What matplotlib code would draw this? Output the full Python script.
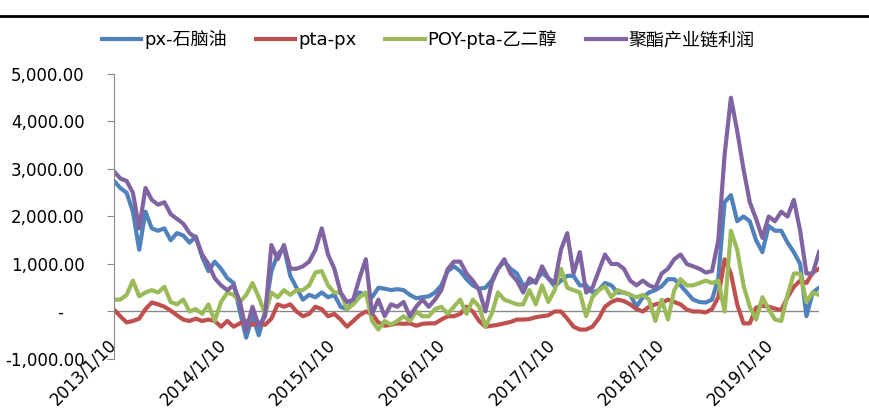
import matplotlib
matplotlib.use('Agg')
import matplotlib.pyplot as plt
from matplotlib.lines import Line2D
import pandas as pd

plt.rcParams['font.family'] = ['DejaVu Sans', 'Noto Sans CJK SC']

# every 3 weeks from 2013/1/10
dates = pd.date_range('2013-01-10', periods=113, freq='21D')

px_naphtha = [2750, 2600, 2500, 2100, 1300, 2100, 1750, 1700, 1750, 1500,
              1650, 1600, 1450, 1580, 1150, 850, 1050, 900, 700, 600,
              0, -550, -100, -500, 0, 850, 1200, 1350, 750, 500,
              250, 350, 300, 400, 300, 350, 100, 50, 200, 400,
              350, 300, 500, 480, 450, 470, 450, 350, 280, 300,
              320, 400, 550, 850, 950, 850, 680, 550, 480, 500,
              650, 900, 1050, 900, 800, 550, 600, 650, 820, 700,
              530, 650, 750, 750, 550, 550, 400, 450, 600, 550,
              400, 400, 350, 100, 300, 400, 450, 530, 680, 680,
              550, 400, 250, 200, 190, 250, 700, 2300, 2450, 1900,
              2000, 1900, 1500, 1250, 1800, 1700, 1700, 1450, 1250, 1000,
              -100, 400, 500]

pta_px = [40, -100, -230, -200, -150, 50, 190, 150, 100, 20,
          -80, -170, -200, -150, -200, -170, -200, -320, -200, -320,
          -250, -200, -280, -250, -280, -150, 150, 100, 150, 0,
          -100, -50, 100, 50, -100, -50, -170, -320, -200, -80,
          0, -50, -230, -300, -280, -250, -260, -250, -300, -260,
          -250, -250, -170, -100, -100, -50, 100, 0, -200, -320,
          -300, -280, -250, -220, -170, -170, -160, -120, -100, -80,
          0, 0, -150, -320, -380, -380, -320, -150, 100, 200,
          250, 220, 150, 50, 0, 100, 150, 180, 250, 200,
          150, 40, 0, 0, -20, 50, 300, 1100, 800, 150,
          -250, -250, 80, 120, 100, 60, 30, 300, 520, 650,
          600, 820, 900]

poy_pta_meg = [250, 250, 350, 650, 320, 400, 450, 400, 520, 200,
               150, 250, 0, 50, -50, 150, -200, 200, 400, 350,
               200, 350, 600, 300, -50, 400, 300, 450, 350, 450,
               450, 550, 820, 850, 550, 400, 400, 50, 150, 300,
               400, -200, -380, -200, -280, -200, -100, -200, 0, -100,
               -100, 50, 100, -50, 100, 250, -50, 250, 100, -320,
               -50, 400, 250, 200, 150, 150, 450, 150, 550, 200,
               450, 900, 500, 450, 400, -100, 300, 450, 530, 300,
               450, 400, 350, 300, 350, 250, -200, 250, -170, 450,
               680, 550, 550, 600, 650, 600, 650, 0, 1700, 1300,
               550, 100, -170, 300, 50, -170, -200, 350, 800, 800,
               200, 400, 350]

polyester_chain = [2950, 2800, 2750, 2500, 1750, 2600, 2350, 2250, 2300, 2050,
                   1950, 1850, 1650, 1550, 1200, 1000, 700, 550, 450, 550,
                   200, -400, 100, -300, -100, 1400, 1100, 1400, 900, 900,
                   950, 1050, 1300, 1750, 1200, 900, 400, 200, 250, 700,
                   1100, -50, 250, -100, 150, 100, 200, -100, 100, 250,
                   100, 250, 450, 890, 1050, 1050, 800, 650, 450, 0,
                   600, 900, 1100, 800, 650, 400, 700, 600, 950, 700,
                   600, 1300, 1650, 800, 1250, 400, 500, 850, 1200, 1000,
                   1000, 900, 650, 550, 650, 550, 500, 800, 900, 1100,
                   1200, 1000, 950, 900, 820, 850, 1500, 3300, 4500, 3800,
                   3000, 2300, 1950, 1550, 2000, 1900, 2100, 2000, 2350, 1700,
                   800, 800, 1250]

series_names = ['px-石脑油', 'pta-px', 'POY-pta-乙二醇', '聚酯产业链利润']
colors = ['#4F81BD', '#C0504D', '#9BBB59', '#8064A2']

tick_dates = pd.to_datetime(['2013-01-10', '2014-01-10', '2015-01-10', '2016-01-10',
                             '2017-01-10', '2018-01-10', '2019-01-10'])
tick_labels = ['2013/1/10', '2014/1/10', '2015/1/10', '2016/1/10',
               '2017/1/10', '2018/1/10', '2019/1/10']
y_ticks = [-1000, 0, 1000, 2000, 3000, 4000, 5000]
y_labels = ['-1,000.00', '-    ', '1,000.00', '2,000.00', '3,000.00', '4,000.00', '5,000.00']

fig = plt.figure(figsize=(8.69, 4.19), dpi=100)
ax = fig.add_axes([0.1312, 0.1432, 0.8113, 0.6802])

ax.axhline(0, color='#8a8a8a', lw=1, zorder=1)

all_series = [px_naphtha, pta_px, poy_pta_meg, polyester_chain]
for vals, name, c in zip(all_series, series_names, colors):
    ax.plot(dates, vals, color=c, lw=3, label=name, zorder=2)

ax.set_xlim(dates[0], dates[-1])
ax.set_ylim(-1000, 5000)

ax.set_yticks(y_ticks)
ax.set_yticklabels(y_labels, fontsize=12)
ax.tick_params(axis='y', direction='out', length=5, color='#8a8a8a', pad=16)

ax.set_xticks(tick_dates)
ax.set_xticklabels(tick_labels, fontsize=12, rotation=45, ha='right',
                   va='center', rotation_mode='anchor')
ax.tick_params(axis='x', length=0, pad=-12)

for s in ['top', 'right', 'bottom']:
    ax.spines[s].set_visible(False)
ax.spines['left'].set_color('#8a8a8a')

fig.legend(loc='center', bbox_to_anchor=(0.4925, 0.905), ncol=4, frameon=False,
           fontsize=13, handlelength=2.2, handletextpad=0.15, columnspacing=1.6)

fig.add_artist(Line2D([0, 1], [0.962, 0.962], color='black', lw=2))

plt.savefig('out.png', dpi=100)
